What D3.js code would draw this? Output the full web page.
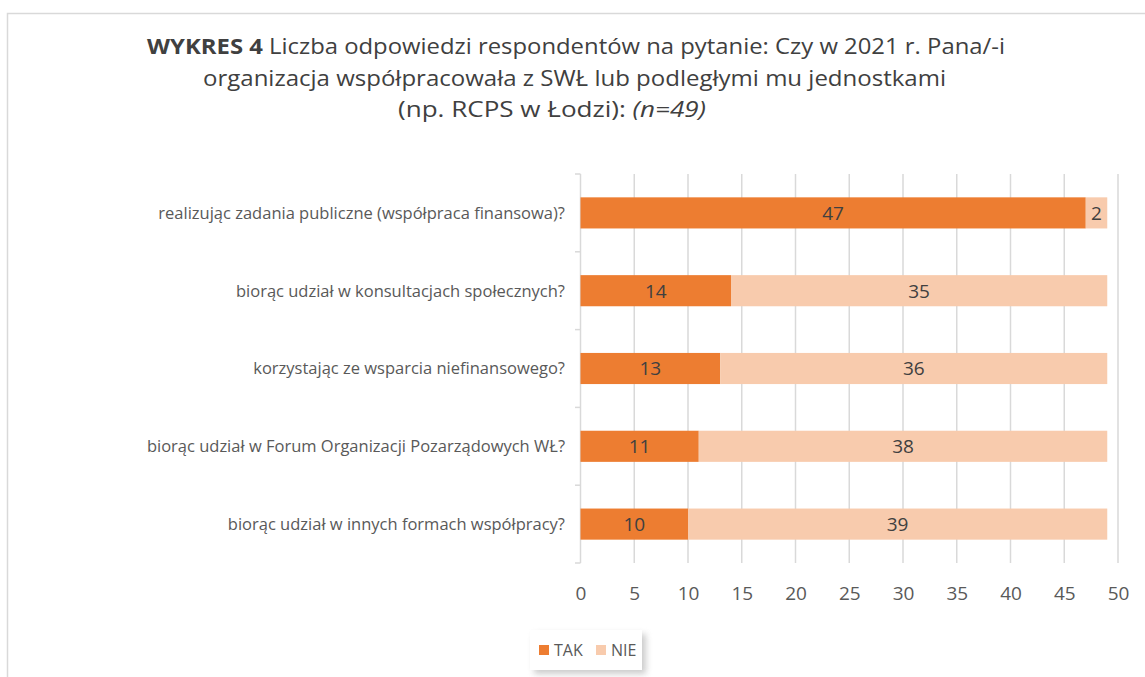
<!DOCTYPE html>
<html><head><meta charset="utf-8">
<script src="https://cdn.jsdelivr.net/npm/d3@7/dist/d3.min.js"></script>
<style>body{margin:0;background:#fff;} svg{display:block;font-family:"Open Sans",sans-serif;}</style>
</head><body>
<svg id="c" width="1145" height="677"></svg>
<script>
const categories = [
  "realizując zadania publiczne (współpraca finansowa)?",
  "biorąc udział w konsultacjach społecznych?",
  "korzystając ze wsparcia niefinansowego?",
  "biorąc udział w Forum Organizacji Pozarządowych WŁ?",
  "biorąc udział w innych formach współpracy?"
];
const tak = [47, 14, 13, 11, 10];
const nie = [2, 35, 36, 38, 39];
const seriesNames = ["TAK", "NIE"];
const tickValues = [0, 5, 10, 15, 20, 25, 30, 35, 40, 45, 50];
const colors = ["#ED7D31", "#F8CBAD"];

const svg = d3.select("#c");
// frame
svg.append("path").attr("d","M7.5,677 V13.5 H1145").attr("fill","none").attr("stroke","#d9d9d9").attr("stroke-width",1.5);

// title
const t = svg.append("g").attr("fill","#404040").attr("font-size",21);
function fitLine(sel, target){ sel.attr("textLength", target).attr("lengthAdjust","spacingAndGlyphs"); }
const l1 = t.append("text").attr("x",147).attr("y",54);
l1.append("tspan").attr("font-weight","bold").text("WYKRES 4");
l1.append("tspan").text(" Liczba odpowiedzi respondentów na pytanie: Czy w 2021 r. Pana/-i");
fitLine(l1, 858);
const l2 = t.append("text").attr("x",203).attr("y",86).text("organizacja współpracowała z SWŁ lub podległymi mu jednostkami");
fitLine(l2, 743);
const l3 = t.append("text").attr("x",398).attr("y",117);
l3.append("tspan").text("(np. RCPS w Łodzi): ");
l3.append("tspan").attr("font-style","italic").text("(n=49)");
fitLine(l3, 308);

const x = d3.scaleLinear().domain([0,50]).range([580.5,1118]);
const y = d3.scaleBand().domain(categories).range([174,563]).paddingInner(0.6).paddingOuter(0.3);

// gridlines
svg.append("g").selectAll("line").data(tickValues.filter(d=>d>0)).join("line")
  .attr("x1",d=>x(d)).attr("x2",d=>x(d)).attr("y1",174).attr("y2",563)
  .attr("stroke","#d9d9d9").attr("stroke-width",1.5);

// y axis line and ticks at band boundaries
const bounds = d3.range(categories.length+1).map(i=>174 + i*(563-174)/categories.length);
svg.append("line").attr("x1",580.5).attr("x2",580.5).attr("y1",174).attr("y2",563).attr("stroke","#d9d9d9").attr("stroke-width",1.5);
svg.append("g").selectAll("line").data(bounds).join("line")
  .attr("x1",575).attr("x2",580.5).attr("y1",d=>d).attr("y2",d=>d).attr("stroke","#d9d9d9").attr("stroke-width",1.5);

// stacked bars
const stackData = categories.map((c,i)=>({c, TAK:tak[i], NIE:nie[i]}));
const stacked = d3.stack().keys(seriesNames)(stackData);
const gb = svg.append("g");
stacked.forEach((s,si)=>{
  gb.append("g").selectAll("rect").data(s).join("rect")
    .attr("x",d=>x(d[0])).attr("width",d=>x(d[1])-x(d[0]))
    .attr("y",d=>y(d.data.c)).attr("height",y.bandwidth())
    .attr("fill",colors[si]);
  gb.append("g").selectAll("text").data(s).join("text")
    .attr("x",d=>(x(d[0])+x(d[1]))/2).attr("y",d=>y(d.data.c)+y.bandwidth()/2)
    .attr("dy","0.36em").attr("text-anchor","middle").attr("font-size",19).attr("fill","#404040")
    .text(d=>d[1]-d[0]);
});

// category labels
svg.append("g").selectAll("text").data(categories).join("text")
  .attr("x",565).attr("y",d=>y(d)+y.bandwidth()/2).attr("dy","0.36em")
  .attr("text-anchor","end").attr("font-size",16.5).attr("fill","#595959").text(d=>d);

// x axis labels
const xAxis = d3.axisBottom(x).tickValues(tickValues).tickSize(0).tickPadding(0);
const ga = svg.append("g").attr("transform","translate(0,593)").call(xAxis);
ga.select(".domain").remove();
ga.selectAll("text").attr("font-size",19).attr("fill","#595959").attr("font-family","Open Sans").attr("dy","0.36em");

// legend
const lg = svg.append("g");
lg.append("rect").attr("x",534).attr("y",634).attr("width",112).attr("height",40).attr("fill","#aaaaaa").attr("opacity",0.6).style("filter","blur(3px)");
lg.append("rect").attr("x",530).attr("y",630).attr("width",112).attr("height",40).attr("fill","#fff");
const items = [{n:seriesNames[0],c:colors[0],x:539},{n:seriesNames[1],c:colors[1],x:596}];
items.forEach(it=>{
  lg.append("rect").attr("x",it.x).attr("y",645).attr("width",10).attr("height",10).attr("fill",it.c);
  lg.append("text").attr("x",it.x+15).attr("y",650).attr("dy","0.36em").attr("font-size",16).attr("fill","#595959").text(it.n);
});
</script>
</body></html>
